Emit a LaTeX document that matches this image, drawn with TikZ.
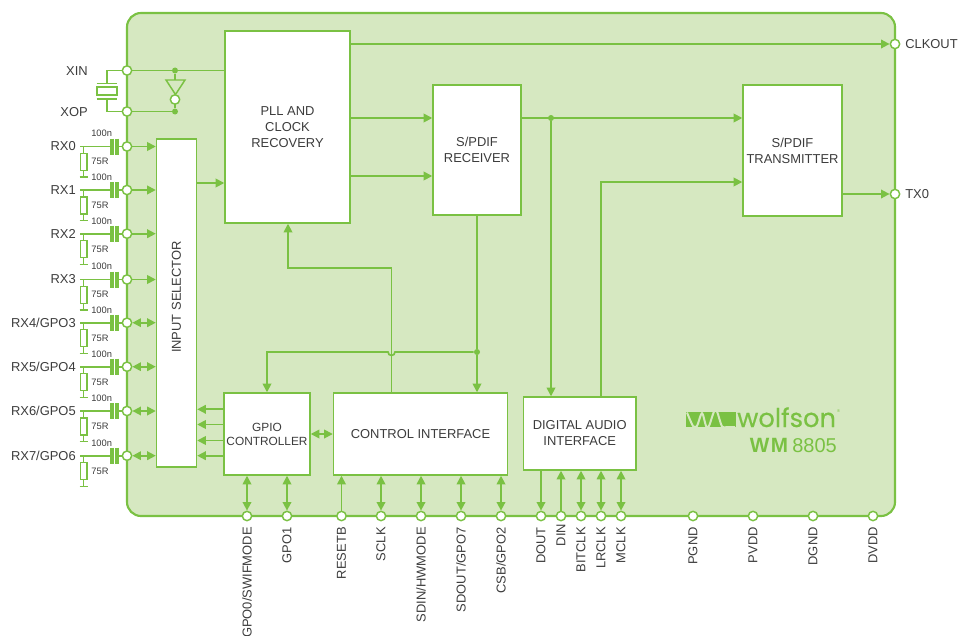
\documentclass[tikz,border=0pt]{standalone}
\usepackage{fontspec}
\setmainfont{Liberation Sans}
\newfontfamily\logofont{Poppins}
\usetikzlibrary{arrows.meta,calc}
\definecolor{wgreen}{HTML}{7AC143}
\definecolor{wfill}{HTML}{D6E8C1}
\definecolor{wtext}{HTML}{3C3C3C}
\tikzset{
  px/.style={x=0.75pt,y=-0.75pt},
  wire/.style={draw=wgreen,line width=1.25pt},
  thin wire/.style={draw=wgreen,line width=1pt},
  arr/.style={wire,-{Triangle[length=6.4pt,width=6.4pt]}},
  dbl/.style={wire,{Triangle[length=6.4pt,width=6.4pt]}-{Triangle[length=6.4pt,width=6.4pt]}},
  blk/.style={draw=wgreen,fill=white,line width=1.1pt,inner sep=0pt,text=wtext,align=center,
     font=\fontsize{9.7}{12}\selectfont},
  pin/.style={circle,draw=wgreen,fill=white,line width=1.1pt,minimum size=7pt,inner sep=0pt},
  dot/.style={circle,fill=wgreen,minimum size=4.5pt,inner sep=0pt},
  lab/.style={text=wtext,inner sep=0pt,font=\fontsize{9.7}{12}\selectfont},
  tiny/.style={text=wtext,inner sep=0pt,font=\fontsize{7}{8}\selectfont,anchor=west},
  plate/.style={draw=wgreen,line width=2.3pt},
}
\begin{document}
\begin{tikzpicture}[px]
\useasboundingbox (0,0) rectangle (959,635);
% chip
\draw[draw=wgreen,fill=wfill,line width=1.6pt,rounded corners=10.5pt] (127,13) rectangle (895,516);
% blocks
\node[blk,minimum width=125*0.75pt,minimum height=192*0.75pt] (pll) at (287.5,127) {PLL AND\\[0pt]CLOCK\\[0pt]RECOVERY};
\node[blk,minimum width=88*0.75pt,minimum height=130*0.75pt] (rcv) at (477,150) {S/PDIF\\RECEIVER};
\node[blk,minimum width=99*0.75pt,minimum height=131*0.75pt] (tx) at (792.5,150.5) {S/PDIF\\TRANSMITTER};
\node[blk,minimum width=40*0.75pt,minimum height=328*0.75pt] (sel) at (176.5,303) {};
\node[lab,rotate=90] (sellab) at (176.5,297) {INPUT SELECTOR};
\node[blk,minimum width=86*0.75pt,minimum height=82*0.75pt,font=\fontsize{8.9}{10.5}\selectfont] (gpio) at (267,434) {GPIO\\CONTROLLER};
\node[blk,minimum width=174*0.75pt,minimum height=82*0.75pt] (ctl) at (420.5,434) {CONTROL INTERFACE};
\node[blk,minimum width=112.5*0.75pt,minimum height=73*0.75pt] (dai) at (579.7,433.5) {DIGITAL AUDIO\\INTERFACE};
% pins: top/right
\node[pin] (clkout) at (895,44) {};
\node[pin] (tx0) at (895,194) {};
\node[lab,anchor=west] (clkoutlab) at (905,44) {CLKOUT};
\node[lab,anchor=west] (tx0lab) at (905,194) {TX0};
\draw[arr] (pll.east |- clkout) -- (clkout.west);
\draw[arr] (tx.east |- tx0) -- (tx0.west);
% XIN / XOP
\node[pin] (xin) at (127,70.5) {};
\node[pin] (xop) at (127,111.5) {};
\node[lab,anchor=east] (xinlab) at (88,71) {XIN};
\node[lab,anchor=east] (xoplab) at (88,112) {XOP};
\node[dot] (d1) at (175,70.5) {};
\node[dot] (d2) at (175,111.5) {};
\coordinate (inva) at (166,80);
\coordinate (invb) at (185,80);
\coordinate (invc) at (175.5,94.5);
\draw[wire] (xin.east) -- (pll.west |- xin);
\draw[wire] (xop.east) -- (d2);
\draw[wire] (d1) -- (175,80);
\draw[wire] (d2) -- (175,99.5);
\draw[draw=wgreen,fill=wfill,line width=1.1pt,line join=miter] (inva) -- (invb) -- (invc) -- cycle;
\node[pin] (bub) at (175,99.5) {};
\node[draw=wgreen,fill=white,line width=1.1pt,minimum width=20*0.75pt,minimum height=8*0.75pt,inner sep=0pt] (xtal) at (107,91) {};
\coordinate (xt) at (107,83.5);
\coordinate (xb) at (107,99);
\draw[wire] (xin.west) -| (xt);
\draw[wire] (xop.west) -| (xb);
\draw[thin wire] (96.7,83.5) -- (117.3,83.5);
\draw[thin wire] (96.7,99) -- (117.3,99);
% RX inputs
\foreach \n/\yy/\txt/\kind in {0/146.5/RX0/arr,1/190/RX1/arr,2/233.7/RX2/arr,3/279.5/RX3/arr,
    4/322.7/RX4\slash GPO3/dbl,5/366.7/RX5\slash GPO4/dbl,6/411/RX6\slash GPO5/dbl,7/455.7/RX7\slash GPO6/dbl}{
  \node[pin] (rx\n) at (127,\yy) {};
  \node[lab,anchor=east] (rxlab\n) at (76,\yy) {\txt};
  \coordinate (rl\n) at (80,\yy);
  \coordinate (cl\n) at (112,\yy);
  \coordinate (cr\n) at (117,\yy);
  \draw[wire] (rl\n) -- (cl\n);
  \draw[wire] (cr\n) -- (rx\n.west);
  \draw[plate] ($(cl\n)+(0,-8)$) -- ($(cl\n)+(0,8)$);
  \draw[plate] ($(cr\n)+(0,-8)$) -- ($(cr\n)+(0,8)$);
  \node[draw=wgreen,fill=white,line width=1pt,minimum width=6.5*0.75pt,minimum height=17*0.75pt,inner sep=0pt] (res\n) at (83.7,\yy+15.5) {};
  \coordinate (gnd\n) at (83.7,\yy+30.5);
  \draw[thin wire] (res\n.north) -- (res\n.north |- rl\n);
  \draw[thin wire] (res\n.south) -- (gnd\n);
  \draw[thin wire] ($(gnd\n)+(-4,0)$) -- ($(gnd\n)+(4,0)$);
  \node[tiny] (cap\n) at (91,\yy-12.8) {100n};
  \node[tiny] (rv\n) at (91.2,\yy+15.3) {75R};
  \draw[\kind] (rx\n.east) -- (sel.west |- rx\n);
}
% internal wiring
\coordinate (pinp) at (0,183);
\draw[arr] (sel.east |- pinp) -- (pll.west |- pinp);
\coordinate (r1) at (0,118);
\coordinate (r2) at (0,176);
\draw[arr] (pll.east |- r1) -- (rcv.west |- r1);
\draw[arr] (pll.east |- r2) -- (rcv.west |- r2);
\node[dot] (d3) at (551,118) {};
\draw[arr] (rcv.east |- r1) -- (tx.west |- r1);
\draw[arr] (d3) -- (d3 |- dai.north);
\coordinate (dtx) at (601,182);
\draw[arr] (dtx |- dai.north) -- (dtx) -- (tx.west |- dtx);
\node[dot] (d4) at (477,352) {};
\draw[wire] (rcv.south) -- (d4);
\draw[arr] (d4) -- (d4 |- ctl.north);
\coordinate (jr) at (395,352);
\draw[arr] (d4) -- (jr) arc[start angle=0,end angle=180,radius=3.5] -- (267,352) -- (267,352 |- gpio.north);
\coordinate (c1) at (391.5,268);
\draw[arr] (c1 |- ctl.north) -- (c1) -- (288,268) -- (288,268 |- pll.south);
\foreach \yy in {409.3,424.5,440.5,455.7}{
  \coordinate (g) at (0,\yy);
  \draw[arr] (gpio.west |- g) -- (sel.east |- g);
}
\draw[dbl] (gpio.east |- 0,434) -- (ctl.west |- 0,434);
% bottom pins
\foreach \n/\xx/\txt/\from/\kind/\ytop in {
   a/247/GPO0\slash SWIFMODE/gpio/dbl/527,
   b/287/GPO1/gpio/dbl/527,
   c/341.5/RESETB/ctl/up/527,
   d/381/SCLK/ctl/dbl/527,
   e/421/SDIN\slash HWMODE/ctl/dbl/527,
   f/461/SDOUT\slash GPO7/ctl/dbl/527,
   g/501/CSB\slash GPO2/ctl/dbl/527,
   h/541/DOUT/dai/down/527,
   i/561/DIN/dai/up/523.5,
   j/581/BITCLK/dai/dbl/527,
   k/601/LRCLK/dai/dbl/527,
   l/621/MCLK/dai/dbl/527}{
  \node[pin] (p\n) at (\xx,516) {};
  \node[lab,rotate=90,anchor=east] (plab\n) at (\xx,\ytop) {\txt};
  \ifnum\pdfstrcmp{\kind}{dbl}=0
    \draw[dbl] (p\n.north) -- (p\n.north |- \from.south);
  \fi
  \ifnum\pdfstrcmp{\kind}{up}=0
    \draw[arr] (p\n.north) -- (p\n.north |- \from.south);
  \fi
  \ifnum\pdfstrcmp{\kind}{down}=0
    \draw[arr] (p\n.north |- \from.south) -- (p\n.north);
  \fi
}
\foreach \n/\xx/\txt in {m/693/PGND,n/753/PVDD,o/813/DGND,p/873/DVDD}{
  \node[pin] (p\n) at (\xx,516) {};
  \node[lab,rotate=90,anchor=east] (plab\n) at (\xx,527) {\txt};
}
% logo
\fill[wgreen] (686,412) rectangle (736,427);
\draw[wfill,line width=1.5pt,line join=round] plot[smooth,tension=0.5] coordinates {(687,412.5)(693,426)(697,426)(702,413)(706,426)(709,426)(714,411.5)(717,411.5)(722,426.5)(727,427)(735,427)};
\node[inner sep=0pt,text=wgreen,anchor=base west] (wolfson) at (737,427) {\logofont\fontsize{19.3}{20}\selectfont\addfontfeature{FakeBold=0.5}wolfson};
\node[inner sep=0pt,text=wgreen,font=\fontsize{3}{3}\selectfont] (reg) at (838.5,411) {®};
\node[inner sep=0pt,text=wgreen,font=\bfseries\fontsize{15.5}{16}\selectfont,anchor=base west] (wm) at (749.5,452) {W\kern1.2pt M};
\node[inner sep=0pt,text=wgreen,font=\fontsize{15}{16}\selectfont,anchor=base west] (part) at (792,452) {8805};
\end{tikzpicture}
\end{document}
